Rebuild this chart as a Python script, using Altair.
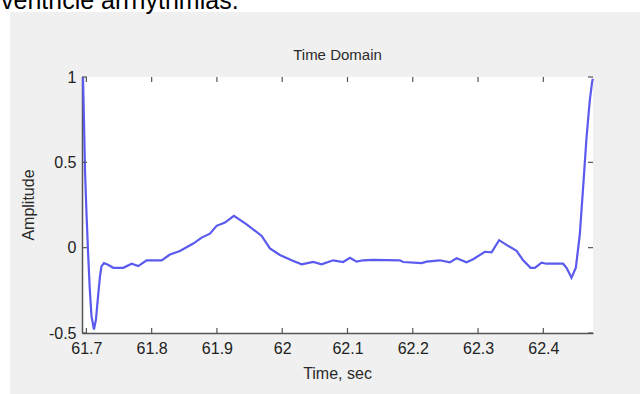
import altair as alt
import pandas as pd

# ---- data ----
time_sec = [61.6948, 61.6963, 61.6979, 61.7002, 61.7025, 61.7051, 61.7078, 61.7116,
            61.7147, 61.7178, 61.7208, 61.7231, 61.7270, 61.7331, 61.7412, 61.7565,
            61.7694, 61.7795, 61.7923, 61.8153, 61.8280, 61.8433, 61.8637, 61.8766,
            61.8893, 61.8995, 61.9123, 61.9260, 61.9455, 61.9685, 61.9812, 61.9965,
            62.0144, 62.0297, 62.0475, 62.0603, 62.0781, 62.0934, 62.1037, 62.1139,
            62.1240, 62.1394, 62.1802, 62.1853, 62.2135, 62.2211, 62.2415, 62.2568,
            62.2671, 62.2824, 62.2925, 62.3104, 62.3207, 62.3323, 62.3436, 62.3590,
            62.3691, 62.3804, 62.3870, 62.3973, 62.4049, 62.4303, 62.4355, 62.4432,
            62.4498, 62.4559, 62.4620, 62.4662, 62.4712, 62.4747, 62.4758]
amplitude = [1.0, 0.75, 0.45, 0.2, -0.02, -0.235, -0.40, -0.48,
             -0.42, -0.29, -0.17, -0.11, -0.09, -0.10, -0.118, -0.118,
             -0.094, -0.108, -0.074, -0.074, -0.04, -0.02, 0.024, 0.059,
             0.082, 0.128, 0.147, 0.186, 0.137, 0.069, -0.004, -0.043,
             -0.074, -0.098, -0.084, -0.098, -0.074, -0.084, -0.059, -0.082,
             -0.074, -0.072, -0.074, -0.084, -0.09, -0.082, -0.074, -0.086,
             -0.062, -0.086, -0.068, -0.024, -0.027, 0.044, 0.016, -0.019,
             -0.074, -0.118, -0.118, -0.088, -0.094, -0.094, -0.118, -0.176,
             -0.118, 0.078, 0.41, 0.647, 0.863, 0.97, 0.99]
x_ticks = [61.7, 61.8, 61.9, 62.0, 62.1, 62.2, 62.3, 62.4]
x_tick_labels = ["61.7", "61.8", "61.9", "62", "62.1", "62.2", "62.3", "62.4"]
y_ticks = [-0.5, 0, 0.5, 1]
y_tick_labels = ["-0.5", "0", "0.5", "1"]

W, H = 511, 256
FONT = "Liberation Sans"
X_DOMAIN = [61.6933, 62.4761]
Y_DOMAIN = [-0.5, 1.0]

sig = pd.DataFrame({"t": time_sec, "v": amplitude})
xt = pd.DataFrame({"t": x_ticks})
yt = pd.DataFrame({"v": y_ticks})
one = pd.DataFrame({"k": [0]})


def label_expr(vals, labels):
    expr = "''"
    for v, s in zip(vals, labels):
        expr = f"abs(datum.value - ({v})) < 1e-6 ? '{s}' : ({expr})"
    return expr


xs = alt.Scale(domain=X_DOMAIN, nice=False, zero=False)
ys = alt.Scale(domain=Y_DOMAIN, nice=False, zero=False)

line = alt.Chart(sig).mark_line(color="#5a5aee", strokeWidth=2.2).encode(
    x=alt.X("t:Q", scale=xs,
            axis=alt.Axis(values=x_ticks, title=None, ticks=False, grid=False,
                          domainColor="#555555", domainWidth=1.5,
                          labelFont=FONT, labelFontSize=16, labelColor="#222222",
                          labelPadding=7, labelExpr=label_expr(x_ticks, x_tick_labels))),
    y=alt.Y("v:Q", scale=ys,
            axis=alt.Axis(values=y_ticks, title=None, ticks=False, grid=False,
                          domainColor="#555555", domainWidth=1.5,
                          labelFont=FONT, labelFontSize=16, labelColor="#222222",
                          labelPadding=6, labelExpr=label_expr(y_ticks, y_tick_labels))),
)

tick_color = "#555555"
bottom_ticks = alt.Chart(xt).mark_rule(color=tick_color, strokeWidth=1.2).encode(
    x=alt.X("t:Q", scale=xs), y=alt.value(H), y2=alt.value(H - 5))
top_ticks = alt.Chart(xt).mark_rule(color=tick_color, strokeWidth=1.2).encode(
    x=alt.X("t:Q", scale=xs), y=alt.value(0), y2=alt.value(5))
left_ticks = alt.Chart(yt).mark_rule(color=tick_color, strokeWidth=1.2).encode(
    y=alt.Y("v:Q", scale=ys), x=alt.value(0), x2=alt.value(5))
right_ticks = alt.Chart(yt).mark_rule(color=tick_color, strokeWidth=1.2).encode(
    y=alt.Y("v:Q", scale=ys), x=alt.value(W), x2=alt.value(W - 5))

# white page strips around the grey figure
top_strip = alt.Chart(one).mark_rect(color="white").encode(
    x=alt.value(-82), x2=alt.value(558), y=alt.value(-77), y2=alt.value(-65))
left_strip = alt.Chart(one).mark_rect(color="white").encode(
    x=alt.value(-82), x2=alt.value(-72), y=alt.value(-77), y2=alt.value(317))

doc_text = alt.Chart(one).mark_text(
    text="ventricle arrhythmias.", font=FONT, fontSize=25, color="black",
    align="left", baseline="alphabetic").encode(x=alt.value(-81), y=alt.value(-68))

title = alt.Chart(one).mark_text(
    text="Time Domain", font=FONT, fontSize=15, color="#2a2a2a",
    align="center", baseline="middle").encode(x=alt.value(W / 2), y=alt.value(-22))
xlabel = alt.Chart(one).mark_text(
    text="Time, sec", font=FONT, fontSize=16, color="#2a2a2a",
    align="center", baseline="middle").encode(x=alt.value(W / 2), y=alt.value(H + 41))
ylabel = alt.Chart(one).mark_text(
    text="Amplitude", font=FONT, fontSize=16, color="#2a2a2a", angle=270,
    align="center", baseline="middle").encode(x=alt.value(-53), y=alt.value(H / 2))

chart = alt.layer(
    top_strip, left_strip, doc_text, line,
    bottom_ticks, top_ticks, left_ticks, right_ticks,
    title, xlabel, ylabel,
).properties(
    width=W, height=H,
    autosize=alt.AutoSizeParams(type="none"),
    padding={"left": 82, "top": 77, "right": 47, "bottom": 61},
).configure(background="#f0f0f0").configure_view(fill="white", stroke=None)

chart.save("out.html", embed_options={"renderer": "svg", "actions": False})
